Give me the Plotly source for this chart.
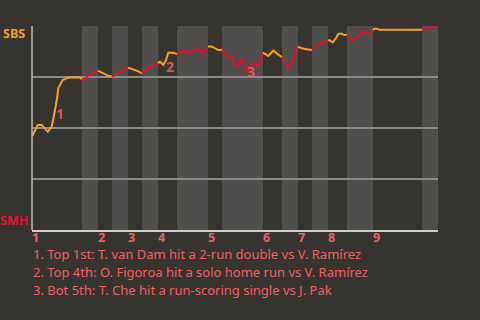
import plotly.graph_objects as go

# Half-inning boundaries (x in event-time units), T1,B1,T2,B2,...,T9,B9
half_bounds = [0, 50, 66, 80, 96, 110, 126, 145, 176, 190, 231, 250, 266, 280, 296, 315, 341, 390, 406]
innings = ["1", "2", "3", "4", "5", "6", "7", "8", "9"]

# Win probability for SBS (0 = SMH wins, 1 = SBS wins)
wp_x = [0.3, 5.7, 9.7, 15.7, 19.7, 21.3, 23, 25.3, 26.3, 28, 30.7, 34.7, 38, 48, 50,
        51.3, 55.3, 61.3, 66,
        71.3, 76.3, 80,
        86.3, 91.3, 96,
        101.3, 106.3, 110,
        116.3, 121.3, 126,
        128, 131.3, 134, 136.3, 141.3, 145,
        148, 153, 156.3, 161.3, 166.3, 170.7, 176,
        179.7, 186.3, 190,
        194.7, 199.7, 204.7, 210.7, 215.3, 218, 222, 226.3, 231,
        236.3, 241.3, 246.3, 250,
        256.3, 261.3, 266,
        269.7, 274.7, 280,
        284.7, 288, 291.3, 296,
        297.3, 300.7, 304, 306.3, 309.7, 312, 315,
        319.7, 321.3, 324.7, 328, 332, 336.3, 341,
        342, 345.3, 347.3, 390,
        393, 396.3, 400.7, 404, 406]
wp_y = [0.461, 0.515, 0.515, 0.482, 0.506, 0.539, 0.588, 0.653, 0.696, 0.711, 0.735, 0.744, 0.748, 0.747, 0.739,
        0.732, 0.755, 0.771, 0.781,
        0.768, 0.756, 0.752,
        0.771, 0.784, 0.796,
        0.788, 0.778, 0.768,
        0.793, 0.804, 0.817,
        0.825, 0.809, 0.833, 0.869, 0.869, 0.863,
        0.866, 0.882, 0.861, 0.882, 0.886, 0.863, 0.899,
        0.899, 0.882, 0.882,
        0.853, 0.850, 0.793, 0.842, 0.771, 0.793, 0.820, 0.801, 0.869,
        0.853, 0.879, 0.861, 0.847,
        0.793, 0.833, 0.899,
        0.891, 0.886, 0.882,
        0.899, 0.907, 0.923, 0.928,
        0.931, 0.920, 0.940, 0.961, 0.963, 0.956, 0.957,
        0.935, 0.928, 0.940, 0.961, 0.977, 0.961, 0.980,
        0.987, 0.987, 0.982, 0.982,
        0.984, 0.990, 0.994, 1.0, 1.0]

# Key plays
play_labels = ["1", "2", "3"]
play_x = [28.0, 138.0, 219.0]
play_y = [0.57, 0.80, 0.775]
play_text = [
    "1. Top 1st: T. van Dam hit a 2-run double vs V. Ramírez",
    "2. Top 4th: O. Figoroa hit a solo home run vs V. Ramírez",
    "3. Bot 5th: T. Che hit a run-scoring single vs J. Pak",
]

BG = "#363431"
BAND = "#504f4d"
ORANGE = "#f7a21b"
RED = "#e8102a"
SALMON = "#f0605f"
FONT = "Noto Sans"

fig = go.Figure()

# line segments coloured by batting team (top = SBS orange, bottom = SMH red)
prev = None
for i in range(len(half_bounds) - 1):
    lo, hi = half_bounds[i], half_bounds[i + 1]
    xs, ys = [], []
    if prev is not None:
        xs.append(prev[0]); ys.append(prev[1])
    for x, y in zip(wp_x, wp_y):
        if (x > lo or (i == 0 and x >= lo)) and x <= hi:
            xs.append(x); ys.append(y)
    if xs:
        prev = (xs[-1], ys[-1])
    fig.add_trace(go.Scatter(x=xs, y=ys, mode="lines",
                             line=dict(color=ORANGE if i % 2 == 0 else RED, width=2),
                             hoverinfo="skip", showlegend=False))

shapes = []
for i in range(1, len(half_bounds) - 1, 2):
    shapes.append(dict(type="rect", xref="x", yref="y", x0=half_bounds[i], x1=half_bounds[i + 1],
                       y0=0, y1=1, fillcolor=BAND, line=dict(width=0), layer="below"))
# left axis line
shapes.append(dict(type="line", xref="paper", yref="paper", x0=0, x1=0, y0=0, y1=1,
                   line=dict(color="#bdbdbd", width=1.5)))

annotations = []
for k, lab in enumerate(innings):
    annotations.append(dict(x=half_bounds[2 * k], y=0, xref="x", yref="paper", text=lab,
                            showarrow=False, xanchor="left", yanchor="middle", yshift=-7, xshift=-1,
                            borderpad=0,
                            font=dict(family=FONT, size=12.5, color=SALMON, weight="bold")))
for lab, x, y in zip(play_labels, play_x, play_y):
    annotations.append(dict(x=x, y=y, xref="x", yref="y", text=lab, showarrow=False,
                            xanchor="center", yanchor="middle",
                            font=dict(family=FONT, size=14, color="rgba(240,96,95,0.85)", weight="bold")))
for j, t in enumerate(play_text):
    annotations.append(dict(x=0, y=0, xref="paper", yref="paper", text=t, showarrow=False,
                            xanchor="left", yanchor="middle", xshift=0, yshift=-24 - 18 * j,
                            borderpad=0,
                            font=dict(family=FONT, size=13, color=SALMON)))
annotations.append(dict(x=0, y=1, xref="paper", yref="paper", text="SBS", showarrow=False,
                        xanchor="right", yanchor="middle", xshift=-5, yshift=-7,
                        font=dict(family=FONT, size=12.5, color=ORANGE, weight="bold")))
annotations.append(dict(x=0, y=0, xref="paper", yref="paper", text="SMH", showarrow=False,
                        xanchor="right", yanchor="middle", xshift=-2, yshift=10,
                        font=dict(family=FONT, size=12.5, color=RED, weight="bold")))

fig.update_layout(
    width=480, height=320,
    margin=dict(l=32, r=42, t=26, b=90),
    paper_bgcolor=BG, plot_bgcolor=BG,
    shapes=shapes, annotations=annotations,
    xaxis=dict(range=[half_bounds[0], half_bounds[-1]], showgrid=False, zeroline=False,
               showticklabels=False, showline=True, linecolor="#cfcfcf", linewidth=2,
               fixedrange=True),
    yaxis=dict(range=[0, 1], tickvals=[0.25, 0.5, 0.75, 1.0], showticklabels=False,
               showgrid=True, gridcolor="#8c8b89", gridwidth=1.5, zeroline=False, showline=False,
               fixedrange=True),
)

fig.write_html("out.html")
